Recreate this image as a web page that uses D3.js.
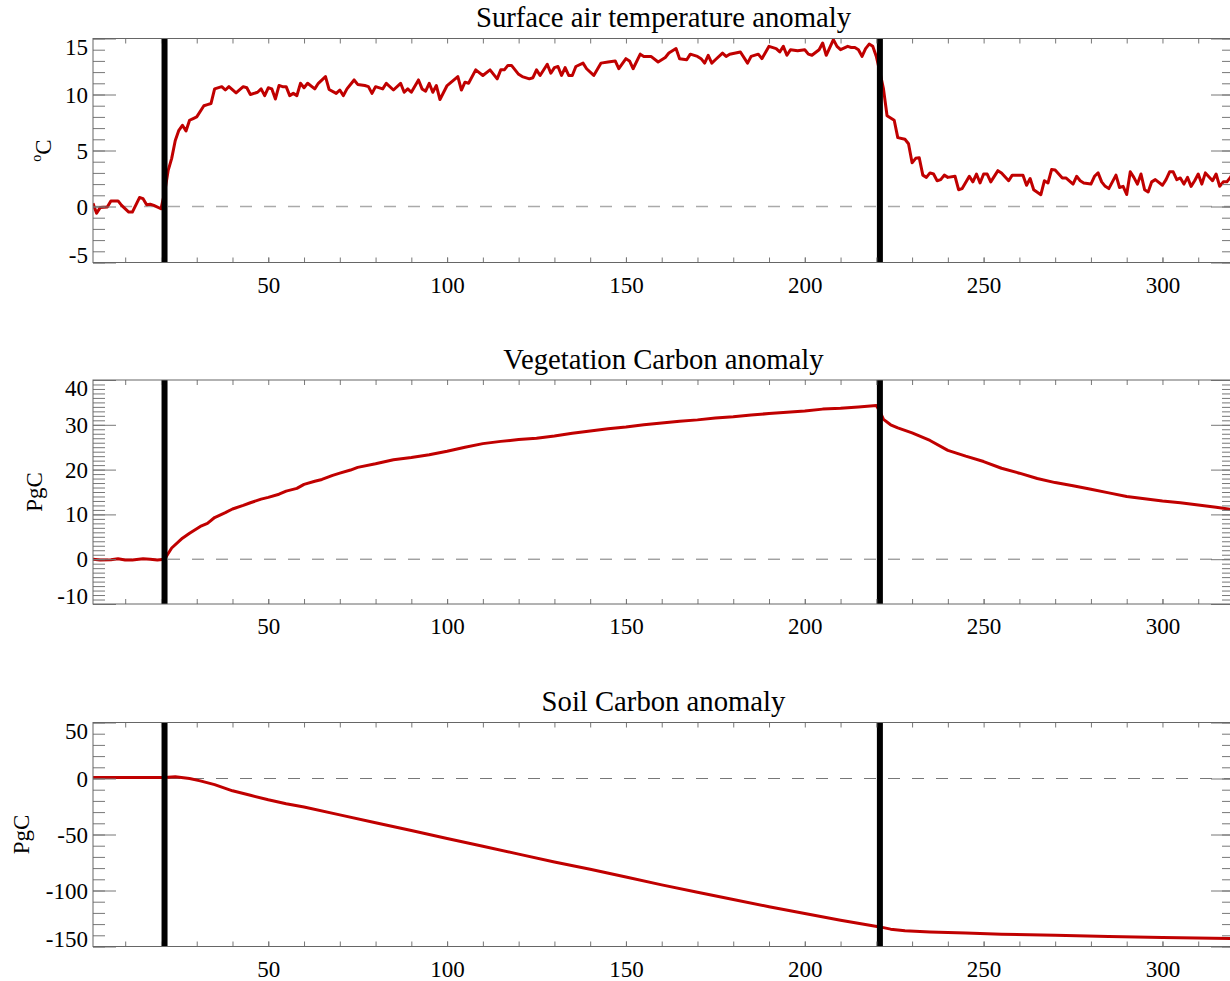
<!DOCTYPE html>
<html>
<head>
<meta charset="utf-8">
<script src="https://cdn.jsdelivr.net/npm/d3@7"></script>
<style>
body { margin: 0; background: #fff; }
text { font-family: "Liberation Serif", "Times New Roman", serif; fill: #000; }
.tick text { font-family: "Liberation Serif", "Times New Roman", serif !important; }
</style>
</head>
<body>
<div id="chart"></div>
<script>
var titles = ["Surface air temperature anomaly", "Vegetation Carbon anomaly", "Soil Carbon anomaly"];
var units = ["C", "PgC", "PgC"];
var forcingYears = [21, 221];
var yearRange = [1, 320];
var xTicks = [50, 100, 150, 200, 250, 300];
var tempTicks = [-5, 0, 5, 10, 15];
var vegTicks = [-10, 0, 10, 20, 30, 40];
var soilTicks = [-150, -100, -50, 0, 50];

// [year, anomaly]
var tempSeries = [[1,0.3],[2,-0.6],[3,-0.1],[5,-0.05],[6,0.5],[8,0.5],[9,0.1],[11,-0.5],[12,-0.5],[14,0.8],[15,0.7],[16,0.15],[17,0.2],[18,0.1],[20,-0.2],[21,1.2],[22,3.2],[23,4.3],[24,5.9],[25,6.8],[26,7.25],[27,6.75],[28,7.7],[29,7.85],[30,8.0],[32,9.0],[33,9.1],[34,9.2],[35,10.5],[37,10.7],[38,10.4],[39,10.7],[41,10.15],[43,10.7],[44,10.6],[45,10.0],[47,10.2],[48,10.5],[49,9.9],[50,10.6],[51,10.5],[52,9.6],[53,10.8],[54,10.7],[55,10.7],[56,9.9],[57,10.1],[58,9.9],[59,11.0],[60,10.6],[61,11.0],[63,10.5],[64,11.0],[66,11.6],[67,10.45],[69,10.1],[70,10.4],[71,9.9],[72,10.5],[74,11.3],[75,10.9],[77,10.8],[78,10.7],[79,10.1],[80,10.7],[82,10.5],[83,11.0],[85,10.4],[87,11.0],[88,10.2],[89,10.5],[90,10.2],[92,11.3],[93,10.5],[94,10.3],[95,11.0],[96,10.2],[97,10.8],[98,9.55],[100,10.8],[103,11.6],[104,10.4],[105,11.1],[106,11.0],[108,12.2],[110,11.7],[112,12.2],[114,11.4],[115,12.2],[116,12.2],[117,12.6],[118,12.6],[120,11.8],[121,11.6],[123,11.4],[124,11.5],[125,12.2],[126,11.7],[128,12.7],[129,11.9],[130,12.4],[131,12.5],[132,11.7],[133,12.4],[134,11.7],[135,11.7],[136,12.5],[138,12.8],[139,12.3],[141,11.7],[143,12.8],[145,12.9],[147,13.0],[148,12.3],[150,13.2],[151,13.0],[152,12.3],[154,13.6],[155,13.4],[157,13.4],[159,12.9],[160,13.1],[161,13.3],[162,13.7],[164,14.1],[165,13.2],[167,13.1],[168,13.6],[170,13.4],[171,13.2],[172,12.8],[173,13.5],[174,12.8],[175,13.1],[177,13.7],[178,13.4],[179,13.6],[182,13.8],[184,12.8],[185,13.4],[187,13.6],[188,13.2],[190,14.3],[192,14.1],[193,13.8],[194,14.3],[195,13.5],[196,14.0],[198,13.9],[200,14.0],[201,13.6],[202,13.5],[204,14.0],[205,14.6],[206,13.5],[208,14.9],[209,14.3],[210,14.0],[212,14.3],[213,14.2],[214,14.2],[215,14.0],[216,13.4],[217,14.1],[218,14.5],[219,14.3],[220,13.4],[221,12.0],[222,10.5],[223,8.1],[224,7.9],[225,7.7],[226,6.15],[228,6.0],[229,5.6],[230,3.9],[231,4.3],[232,4.35],[233,2.8],[234,2.6],[235,3.0],[236,2.9],[237,2.3],[238,2.4],[239,2.8],[240,2.6],[242,2.7],[243,1.5],[244,1.6],[246,2.7],[247,2.2],[248,2.9],[249,2.1],[250,2.9],[251,2.9],[252,2.2],[254,3.2],[255,3.0],[257,2.3],[258,2.8],[261,2.8],[262,1.9],[263,2.5],[264,1.5],[266,1.05],[267,2.3],[268,2.1],[269,3.3],[270,3.25],[272,2.55],[273,2.55],[275,2.0],[276,2.7],[277,2.3],[278,2.1],[280,2.0],[281,2.7],[282,3.0],[283,2.2],[284,1.8],[285,1.6],[287,2.8],[288,1.7],[289,1.8],[290,1.07],[291,3.1],[292,2.6],[293,2.0],[294,2.9],[295,1.5],[296,1.3],[297,2.2],[298,2.4],[300,1.9],[301,2.4],[302,3.1],[303,3.1],[304,2.4],[305,2.55],[306,2.0],[307,2.6],[308,1.8],[309,2.3],[310,2.9],[311,2.0],[312,3.0],[314,2.3],[315,2.9],[316,1.8],[317,2.2],[318,2.2],[319,2.6],[320,3.2]];

var vegSeries = [[1,0.0],[3,-0.2],[6,-0.1],[8,0.1],[10,-0.2],[12,-0.2],[15,0.1],[17,0.0],[19,-0.2],[21,0.0],[23,2.5],[26,4.7],[28,5.8],[31,7.3],[33,8.0],[35,9.3],[38,10.4],[40,11.2],[43,12.0],[45,12.6],[48,13.4],[50,13.8],[53,14.5],[55,15.2],[58,15.8],[60,16.7],[63,17.4],[65,17.8],[68,18.7],[70,19.2],[73,19.9],[75,20.5],[80,21.3],[85,22.2],[90,22.7],[95,23.3],[100,24.1],[105,25.0],[110,25.8],[115,26.3],[120,26.7],[125,27.0],[130,27.5],[135,28.1],[140,28.6],[145,29.1],[150,29.5],[155,30.0],[160,30.4],[165,30.8],[170,31.1],[175,31.5],[180,31.8],[185,32.2],[190,32.5],[195,32.8],[200,33.1],[205,33.5],[210,33.7],[215,34.0],[220,34.3],[221,33.0],[222,31.2],[224,30.0],[226,29.3],[230,28.2],[235,26.5],[240,24.3],[245,23.0],[250,21.8],[255,20.3],[260,19.2],[265,18.0],[270,17.1],[275,16.4],[280,15.6],[285,14.8],[290,14.0],[295,13.5],[300,13.0],[305,12.6],[310,12.1],[315,11.6],[320,11.0]];

var soilSeries = [[1,1.0],[10,1.0],[21,1.0],[24,1.5],[28,0.0],[31,-2.1],[35,-5.5],[40,-11.0],[45,-15.0],[50,-19.0],[55,-22.5],[60,-25.5],[70,-32.5],[80,-39.5],[90,-46.5],[100,-53.5],[110,-60.5],[120,-67.5],[130,-74.5],[140,-81.0],[150,-88.0],[160,-95.0],[170,-101.5],[180,-108.0],[190,-114.5],[200,-120.5],[210,-126.5],[221,-132.5],[224,-134.5],[228,-136.0],[235,-137.0],[245,-138.0],[255,-139.0],[270,-140.0],[285,-141.0],[300,-142.0],[320,-143.0]];

var W = 1230, H = 981;
var plotLeft = 93, plotRight = 1234, plotH = 224;
var tops = [38.5, 380, 722.5];
var tickFont = 23;

var svg = d3.select("#chart").append("svg")
    .attr("width", W)
    .attr("height", H);

var x = d3.scaleLinear().domain(yearRange).range([plotLeft, plotRight]);

var panels = [
    {title: titles[0], unit: units[0], data: tempSeries, domain: [-5, 15], ticks: tempTicks, minor: 1, zeroColor: "#aaa", zeroWidth: 1.6, labelX: 47},
    {title: titles[1], unit: units[1], data: vegSeries, domain: [-10, 40], ticks: vegTicks, minor: 1, zeroColor: "#777", zeroWidth: 1, labelX: 42},
    {title: titles[2], unit: units[2], data: soilSeries, domain: [-150, 50], ticks: soilTicks, minor: 10, zeroColor: "#777", zeroWidth: 1, labelX: 29}
];

panels.forEach(function(p, i) { drawPanel(p, tops[i], i); });

function plain(d) { return String(d); }   // hyphen minus, like the original

function drawPanel(p, top, idx) {
    var bottom = top + plotH;
    var y = d3.scaleLinear().domain(p.domain).range([bottom, top]);
    var g = svg.append("g");

    g.append("clipPath").attr("id", "clip" + idx)
	.append("rect")
	.attr("x", plotLeft).attr("y", top)
	.attr("width", plotRight - plotLeft).attr("height", plotH);

    // zero line
    g.append("line")
	.attr("x1", plotLeft).attr("x2", plotRight)
	.attr("y1", y(0)).attr("y2", y(0))
	.attr("stroke", p.zeroColor)
	.attr("stroke-width", p.zeroWidth)
	.attr("stroke-dasharray", "12,12")
	.attr("stroke-dashoffset", -3);

    // the anomaly curve
    g.append("path")
	.datum(p.data)
	.attr("clip-path", "url(#clip" + idx + ")")
	.attr("fill", "none")
	.attr("stroke", "#c00000")
	.attr("stroke-width", 3)
	.attr("stroke-linejoin", "round")
	.attr("d", d3.line()
	      .x(function(d) { return x(d[0]); })
	      .y(function(d) { return y(d[1]); }));

    // forcing on / off
    g.selectAll(".forcing")
	.data(forcingYears)
	.enter().append("line")
	.attr("x1", function(d) { return x(d); })
	.attr("x2", function(d) { return x(d); })
	.attr("y1", top).attr("y2", bottom)
	.attr("stroke", "#000")
	.attr("stroke-width", 6);

    var minorVals = d3.range(p.domain[0], p.domain[1] + 0.001, p.minor);

    // left axis
    var left = g.append("g").attr("transform", "translate(" + plotLeft + ",0)");
    left.call(d3.axisLeft(y).tickValues(minorVals).tickSize(-12).tickFormat(""));
    var leftMajor = g.append("g").attr("transform", "translate(" + plotLeft + ",0)");
    leftMajor.call(d3.axisLeft(y).tickValues(p.ticks).tickSize(-23).tickPadding(5).tickFormat(plain));
    leftMajor.selectAll("text")
	.attr("dy", function(d) {
	    if (d === p.domain[1]) return "0.68em";
	    if (d === p.domain[0]) return "-0.02em";
	    return "0.33em";
	});

    // right axis
    var right = g.append("g").attr("transform", "translate(" + plotRight + ",0)");
    right.call(d3.axisRight(y).tickValues(minorVals).tickSize(-12).tickFormat(""));
    var rightMajor = g.append("g").attr("transform", "translate(" + plotRight + ",0)");
    rightMajor.call(d3.axisRight(y).tickValues(p.ticks).tickSize(-23).tickFormat(""));

    // bottom / top axes
    var xMinor = d3.range(10, 321, 10);
    var bot = g.append("g").attr("transform", "translate(0," + bottom + ")");
    bot.call(d3.axisBottom(x).tickValues(xMinor).tickSize(-5).tickFormat(""));
    var botLab = g.append("g").attr("transform", "translate(0," + bottom + ")");
    botLab.call(d3.axisBottom(x).tickValues(xTicks).tickSize(-5).tickPadding(14).tickFormat(plain));
    var topAx = g.append("g").attr("transform", "translate(0," + top + ")");
    topAx.call(d3.axisTop(x).tickValues(xMinor).tickSize(-5).tickFormat(""));

    g.selectAll(".domain").remove();
    g.selectAll(".tick line").attr("stroke", "#777");
    g.selectAll("g").attr("font-family", "Liberation Serif").attr("font-size", null);
    g.selectAll(".tick text")
	.attr("fill", "#000")
	.attr("font-family", "Liberation Serif")
	.style("font-size", tickFont + "px");

    // frame
    g.append("rect")
	.attr("x", plotLeft).attr("y", top)
	.attr("width", plotRight - plotLeft).attr("height", plotH)
	.attr("fill", "none")
	.attr("stroke", "#666")
	.attr("stroke-width", 1);

    // title
    g.append("text")
	.attr("x", (plotLeft + plotRight) / 2)
	.attr("y", top - 11.5)
	.attr("text-anchor", "middle")
	.style("font-size", "28.7px")
	.text(p.title);

    // y label
    var lab = g.append("text")
	.attr("transform", "translate(" + p.labelX + "," + (top + plotH / 2) + ") rotate(-90)")
	.attr("text-anchor", "middle")
	.style("font-size", "23px");
    if (idx === 0) {
	lab.append("tspan").attr("dy", "-0.45em").style("font-size", "14px").text("o");
	lab.append("tspan").attr("dy", "0.45em").text(p.unit);
    } else {
	lab.text(p.unit);
    }
}
</script>
</body>
</html>
